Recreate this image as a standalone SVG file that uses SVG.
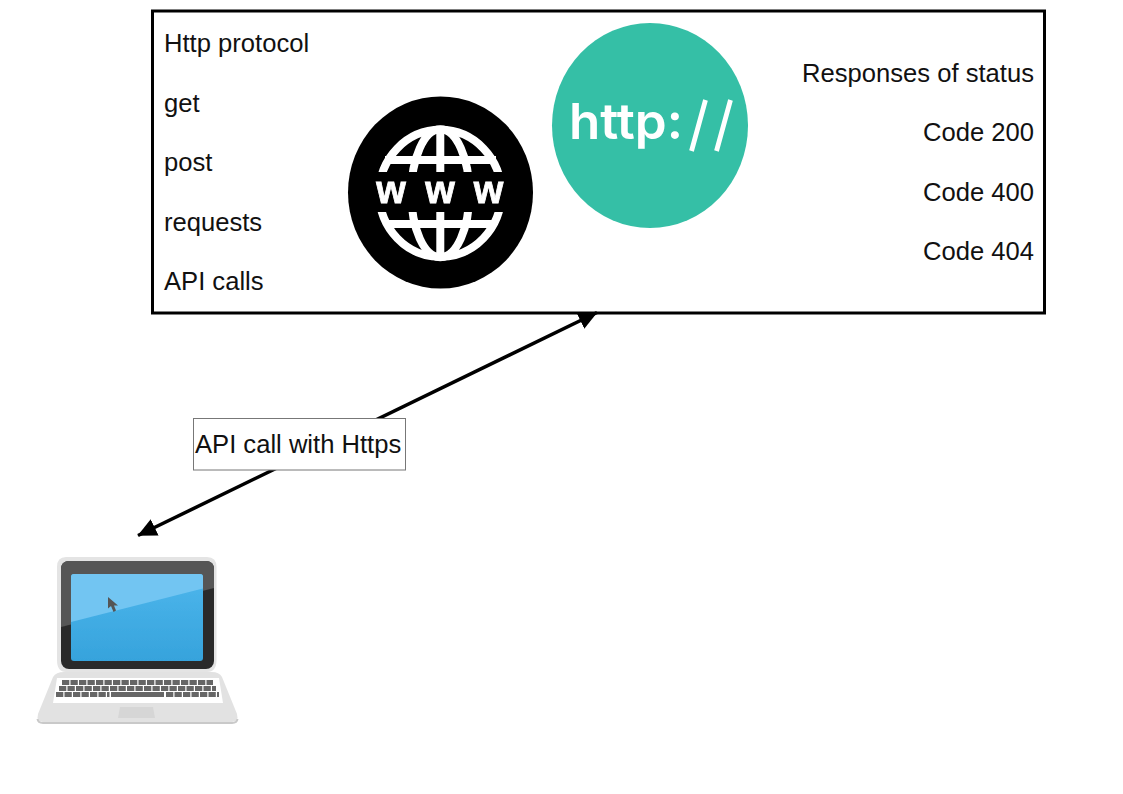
<svg xmlns="http://www.w3.org/2000/svg" width="1123" height="794" viewBox="0 0 1123 794">
<style>
.t{font-family:"Liberation Sans",Arial,sans-serif;font-size:25.6px;fill:#111}
.r{text-anchor:end}
.g{fill:none;stroke:#fff;stroke-width:8}
.k{fill:none;stroke:#666;stroke-width:5}
</style>
<defs>
<marker id="ah" viewBox="0 0 19 19" refX="18.500" refY="9.500" markerWidth="19" markerHeight="19" markerUnits="userSpaceOnUse" orient="auto-start-reverse"><path d="M0 0.500L19 9.500L0 18.500Z" fill="#000"/></marker>
<clipPath id="gc"><rect x="360" y="110" width="160" height="62"/><rect x="360" y="212" width="160" height="62"/></clipPath>
<linearGradient id="scr" x1="0" y1="0" x2="0" y2="1"><stop offset="0" stop-color="#4db6ec"/><stop offset="1" stop-color="#36a3dc"/></linearGradient>
<filter id="soft" x="-5%" y="-5%" width="110%" height="110%"><feGaussianBlur stdDeviation="0.600"/></filter>
</defs>
<rect width="1123" height="794" fill="#fff"/>
<g id="server">
<rect x="152.500" y="11" width="892" height="302" fill="#fff" stroke="#000" stroke-width="3"/>
<text class="t" x="164" y="52">Http protocol</text>
<text class="t" x="164" y="112">get</text>
<text class="t" x="164" y="171">post</text>
<text class="t" x="164" y="231">requests</text>
<text class="t" x="164" y="290">API calls</text>
<text class="t r" x="1034" y="82">Responses of status</text>
<text class="t r" x="1034" y="141">Code 200</text>
<text class="t r" x="1034" y="201">Code 400</text>
<text class="t r" x="1034" y="260">Code 404</text>
</g>
<g id="www-icon" filter="url(#soft)">
<ellipse cx="440.500" cy="192.500" rx="92.500" ry="96" fill="#000"/>
<g clip-path="url(#gc)">
<ellipse class="g" cx="440.300" cy="193.300" rx="61" ry="63.500" stroke-width="10"/>
<ellipse class="g" cx="440.300" cy="193.300" rx="29" ry="64" stroke-width="8"/>
<path class="g" d="M440.300 128V258" stroke-width="7"/>
<path class="g" d="M385 160H496M385 224H496" stroke-width="9"/>
</g>
<text x="391 440 488.500" y="203" text-anchor="middle" font-family="Liberation Sans, Arial, sans-serif" font-weight="700" font-size="38" fill="#fff" stroke="#fff" stroke-width="0.800">www</text>
</g>
<g id="http-icon" filter="url(#soft)">
<ellipse cx="650" cy="125.500" rx="98" ry="102.500" fill="#35bfa6"/>
<text x="569" y="139" font-family="Inter, sans-serif" font-weight="600" font-size="50" fill="#fff" textLength="114" lengthAdjust="spacingAndGlyphs">http:</text>
<path d="M691.500 151L705.500 100M716.500 151L730.500 100" fill="none" stroke="#fff" stroke-width="4.800"/>
</g>
<g id="connectors">
<path d="M597 312.500L138 535.500" fill="none" stroke="#000" stroke-width="3.500" marker-start="url(#ah)" marker-end="url(#ah)"/>
</g>
<g id="label">
<rect x="193.500" y="418.500" width="212" height="51.500" fill="#fff" stroke="#777" stroke-width="1"/>
<text class="t" x="195" y="453">API call with Https</text>
</g>
<g id="laptop" filter="url(#soft)">
<path d="M66 557H207Q216.500 557 216.500 567V660Q216.500 672 207 672H66Q57 672 57 660V567Q57 557 66 557Z" fill="#e4e4e4"/>
<rect x="61" y="561" width="153" height="108" rx="8" fill="#2c2c2c"/>
<path d="M69 561H206Q214 561 214 569V588L61 627V569Q61 561 69 561Z" fill="#565656"/>
<rect x="71" y="574" width="132" height="87" rx="3" fill="url(#scr)"/>
<path d="M74 574H200Q203 574 203 577V588.500L71 622V577Q71 574 74 574Z" fill="#72c5f2"/>
<path d="M108 597V608.500L111 606L113.500 612L116 610.500L114 605.500H118Z" fill="#555"/>
<path d="M64 672H212Q219 672 222 677L237 714Q239 722 232 722H43Q36 722 38 714L53 677Q56 672 64 672Z" fill="#e2e2e2"/>
<path d="M37.500 719Q38 723 43 723H232Q237 723 237.500 719" fill="none" stroke="#c9c9c9" stroke-width="2"/>
<path d="M57 678H219L223 703H53Z" fill="#fff"/>
<path class="k" d="M62 682.500H213" stroke-dasharray="7.300 1.200"/>
<path class="k" d="M59 688.500H216" stroke-dasharray="7.300 1.200"/>
<path class="k" d="M56 694.500H109.500" stroke-dasharray="7.300 1.200"/>
<path class="k" d="M111 694.500H164"/>
<path class="k" d="M166 694.500H219" stroke-dasharray="7.300 1.200"/>
<path d="M120 707H153L155 718H118Z" fill="#d6d6d6"/>
</g>
</svg>
